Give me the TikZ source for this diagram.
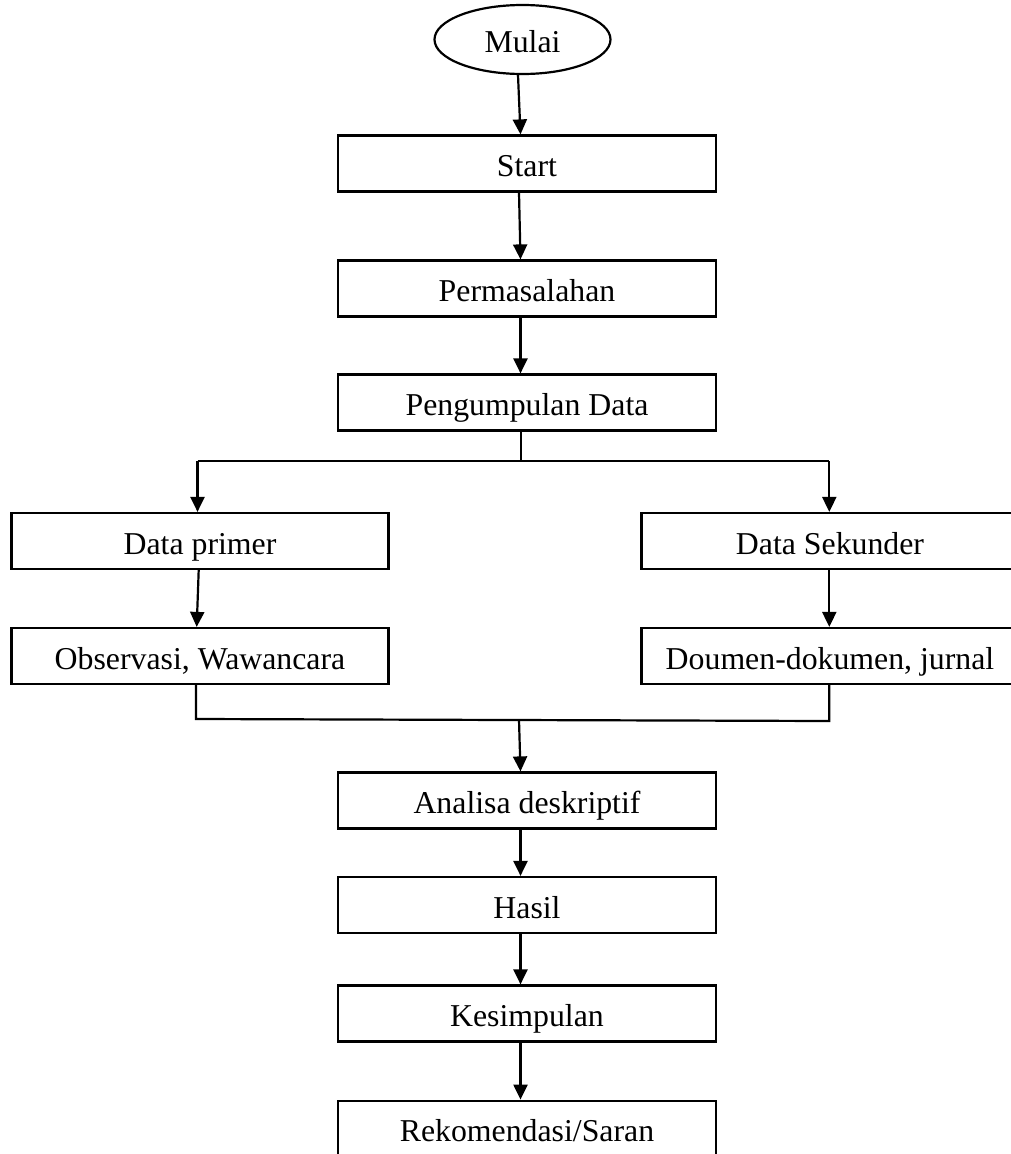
\documentclass[tikz,border=0pt]{standalone}
\usepackage{fontspec}
\setmainfont{Liberation Serif}
\usetikzlibrary{arrows.meta,positioning,calc,shapes.geometric}
\begin{document}
\begin{tikzpicture}[x=1pt,y=-1pt,
  line width=2.2pt,
  flowbox/.style={draw=black, rectangle, minimum width=378pt, minimum height=56pt, inner sep=0pt,
    text height=28pt, text depth=2pt, font=\fontsize{31.8}{38}\selectfont},
  sidebox/.style={flowbox, minimum width=377pt},
  oval/.style={draw=black, ellipse, minimum width=176pt, minimum height=69pt, inner sep=0pt,
    text height=28pt, text depth=2pt, font=\fontsize{31.8}{38}\selectfont},
  arr/.style={-{Triangle[length=15pt,width=14pt]}, line width=2.2pt},
  conn/.style={line width=2.2pt}
]
\useasboundingbox (0,0) rectangle (1011,1154);
\clip (0,0) rectangle (1011,1154);
\fill[white] (0,0) rectangle (1011,1154);

\node[oval] (mulai) at (522.5,39.5) {Mulai};
\node[flowbox] (start) at (527,163.5) {Start};
\node[flowbox] (perm) at (527,288.5) {Permasalahan};
\node[flowbox] (peng) at (527,402.5) {Pengumpulan Data};
\node[sidebox] (primer) at (200,541) {Data primer};
\node[sidebox] (obs) at (200,656) {Observasi, Wawancara};
\node[sidebox] (sek) at (830,541) {Data Sekunder};
\node[sidebox] (dok) at (830,656) {Doumen-dokumen, jurnal};
\node[flowbox] (anal) at (527,800.5) {Analisa deskriptif};
\node[flowbox] (hasil) at (527,905) {Hasil};
\node[flowbox] (kes) at (527,1013.5) {Kesimpulan};
\node[flowbox] (rek) at (527,1128.7) {Rekomendasi/Saran};

\coordinate (xm) at (520.5,0);
\coordinate (xa) at (518,0);
\coordinate (xb) at (519,0);
\coordinate (xl) at (197.5,0);
\coordinate (xl1) at (198.7,0);
\coordinate (xl2) at (196.7,0);
\coordinate (xr) at (829.3,0);
\coordinate (split) at (520.7,461);
\coordinate (jl) at (196,719);
\coordinate (jr) at (829.3,721);
\coordinate (jm) at (519,720);

\draw[arr] (mulai.south -| xa) -- (start.north -| xm);
\draw[arr] (start.south -| xb) -- (perm.north -| xm);
\draw[arr] (perm.south -| xm) -- (peng.north -| xm);
\draw[conn] (peng.south -| split) -- (split);
\draw[conn] (xl |- split) -- (xr |- split);
\draw[arr] (xl |- split) -- (primer.north -| xl);
\draw[arr] (xr |- split) -- (sek.north -| xr);
\draw[arr] (primer.south -| xl1) -- (obs.north -| xl2);
\draw[arr] (sek.south -| xr) -- (dok.north -| xr);
\draw[conn] (obs.south -| jl) -- (jl) -- (jr) -- (dok.south -| jr);
\draw[arr] (jm) -- (anal.north -| xm);
\draw[arr] (anal.south -| xm) -- (hasil.north -| xm);
\draw[arr] (hasil.south -| xm) -- (kes.north -| xm);
\draw[arr] (kes.south -| xm) -- (rek.north -| xm);
\end{tikzpicture}
\end{document}
